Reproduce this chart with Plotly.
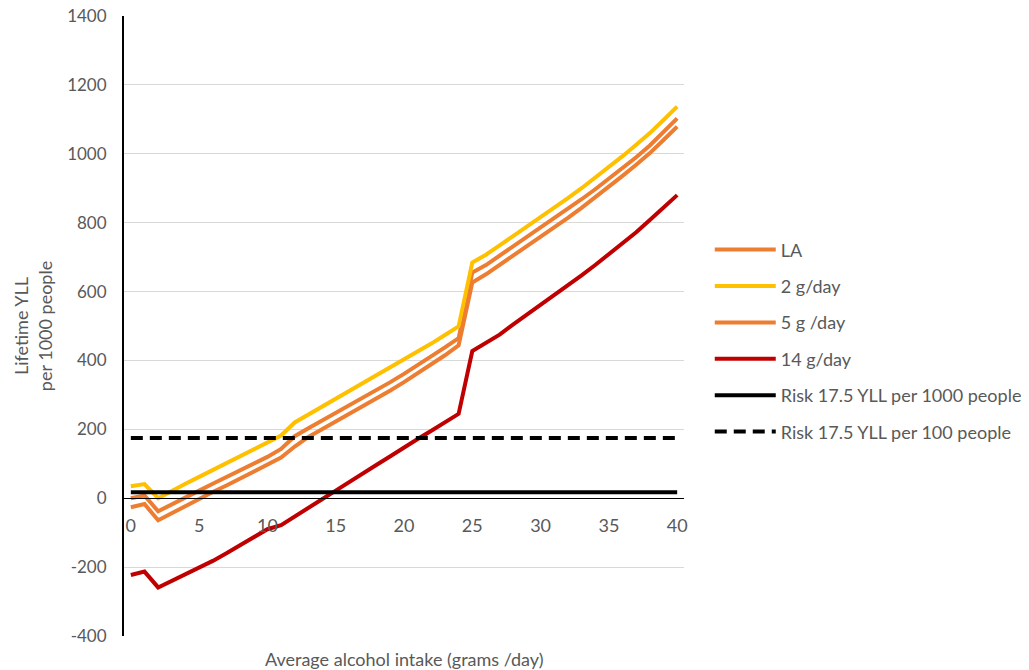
import plotly.graph_objects as go

intake = list(range(41))
tick_vals = [0, 5, 10, 15, 20, 25, 30, 35, 40]
y_ticks = [-400, -200, 0, 200, 400, 600, 800, 1000, 1200, 1400]
y_tick_text = ["-400", "-200", "0", "200", "400", "600", "800", "1000", "1200", "1400"]

la = [0, 8, -38, -17, 3, 22, 42, 61, 80, 100, 120, 143, 180, 203, 225, 247, 269, 291, 314, 337,
      361, 386, 411, 438, 465, 655, 677, 704, 731, 758, 785, 812, 840, 868, 897, 927, 958, 990,
      1024, 1062, 1103]
g2 = [35, 41, 0, 22, 42, 62, 82, 101, 121, 141, 161, 182, 220, 243, 266, 289, 312, 334, 356, 378,
      401, 425, 449, 474, 499, 684, 707, 734, 761, 788, 815, 843, 871, 900, 930, 961, 993, 1026,
      1060, 1098, 1137]
g5 = [-26, -17, -64, -43, -22, -2, 18, 37, 57, 77, 97, 118, 150, 178, 200, 222, 245, 267, 290, 313,
      337, 362, 388, 415, 444, 626, 650, 677, 704, 731, 758, 786, 814, 843, 873, 904, 936, 968,
      1002, 1040, 1079]
g14 = [-223, -213, -259, -240, -222, -203, -182, -160, -137, -113, -90, -78, -52, -27, -3, 22, 48,
       72, 97, 122, 148, 172, 196, 220, 245, 427, 450, 475, 505, 533, 562, 590, 618, 647, 677, 708,
       740, 772, 808, 845, 880]
risk_1000_value = 17.5
risk_100_value = 175
risk_1000 = [risk_1000_value for _ in intake]
risk_100 = [risk_100_value for _ in intake]

names = ["LA", "2 g/day", "5 g /day", "14 g/day", "Risk 17.5 YLL per 1000 people",
         "Risk 17.5 YLL per 100 people"]
series = [la, g2, g5, g14, risk_1000, risk_100]
colors = ["#ED7D31", "#FFC000", "#ED7D31", "#C00000", "#000000", "#000000"]
dashes = ["solid", "solid", "solid", "solid", "solid", "12px,7px"]

FONT = "Lato"
TXT = "#595959"

fig = go.Figure()
for i, (n, s, c, d) in enumerate(zip(names, series, colors, dashes)):
    fig.add_trace(go.Scatter(x=intake, y=s, mode="lines", name=n, legendgroup=str(i),
                             line=dict(color=c, width=4, dash=d)))

fig.update_layout(
    width=1060, height=670,
    margin=dict(l=116, r=384, t=8, b=42),
    plot_bgcolor="white", paper_bgcolor="white",
    font=dict(family=FONT, color=TXT, size=18),
    showlegend=True,
    legend=dict(x=1.046, xanchor="left", y=0.476, yanchor="middle",
                font=dict(family=FONT, size=18, color=TXT),
                itemwidth=61, tracegroupgap=10, bgcolor="rgba(0,0,0,0)"),
    xaxis=dict(range=[-0.5, 40.5], tickvals=tick_vals, showgrid=False, zeroline=False,
               showline=True, linecolor="black", linewidth=1, automargin=False,
               anchor="free", position=400 / 1800,
               ticks="outside", ticklen=11, tickcolor="rgba(0,0,0,0)",
               tickfont=dict(size=18, color=TXT, family=FONT)),
    yaxis=dict(range=[-400, 1400], tickvals=y_ticks, ticktext=y_tick_text, showgrid=True,
               gridcolor="#D9D9D9", automargin=False, ticklabeloverflow="allow",
               gridwidth=1, zeroline=False, showline=True, linecolor="black", linewidth=2,
               ticks="outside", ticklen=12, tickcolor="rgba(0,0,0,0)",
               tickfont=dict(size=17, color=TXT, family=FONT),
               title=dict(text="Lifetime YLL<br>per 1000 people",
                          font=dict(size=18, color=TXT, family=FONT), standoff=10)),
    annotations=[dict(text="Average alcohol intake (grams /day)", xref="paper", yref="paper",
                      x=0.5, y=-0.016, xanchor="center", yanchor="top", showarrow=False,
                      font=dict(size=18, color=TXT, family=FONT))],
)

fig.write_html("out.html")
